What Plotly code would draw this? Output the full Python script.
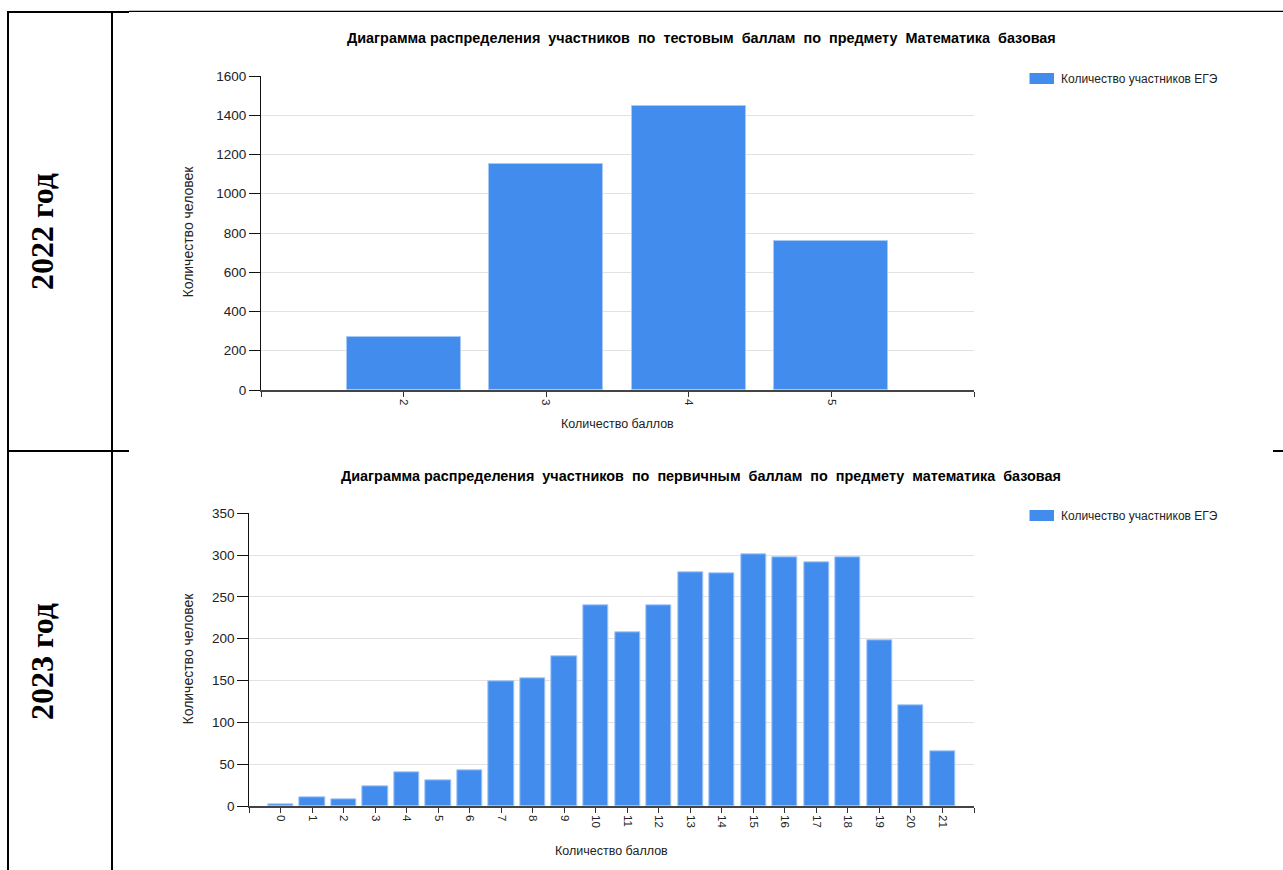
import plotly.graph_objects as go

W, H = 1283, 870

# 2022: distribution by test score (grade)
grades_2022 = [2, 3, 4, 5]
counts_2022 = [272, 1150, 1445, 758]

# 2023: distribution by primary score
scores_2023 = list(range(0, 22))
counts_2023 = [2, 10, 8, 24, 40, 31, 43, 149, 153, 179, 240, 208, 240, 279,
               278, 301, 297, 292, 297, 198, 120, 66]

title_2022 = "Диаграмма распределения  участников  по  тестовым  баллам  по  предмету  Математика  базовая"
title_2023 = "Диаграмма распределения  участников  по  первичным  баллам  по  предмету  математика  базовая"
series_name = "Количество участников ЕГЭ"
y_title = "Количество человек"
x_title = "Количество баллов"
year_labels = ["2022 год", "2023 год"]

BAR = "#428cee"
BAR_EDGE = "#a8c8f6"
TXT = "#222222"


def fx(px):
    return px / W


def fy(py):
    return 1 - py / H


fig = go.Figure()

fig.add_trace(go.Bar(x=grades_2022, y=counts_2022, width=0.8, name=series_name,
                     marker=dict(color=BAR, line=dict(color=BAR_EDGE, width=1)),
                     xaxis="x", yaxis="y", showlegend=False))
fig.add_trace(go.Bar(x=scores_2023, y=counts_2023, width=0.8, name=series_name,
                     marker=dict(color=BAR, line=dict(color=BAR_EDGE, width=1)),
                     xaxis="x2", yaxis="y2", showlegend=False))


def x_ticks(cats):
    lo, hi = cats[0] - 1, cats[-1] + 1
    vals = list(range(lo, hi + 1))
    text = ["" if v < cats[0] or v > cats[-1] else str(v) for v in vals]
    return lo, hi, vals, text


lo1, hi1, tv1, tt1 = x_ticks(grades_2022)
lo2, hi2, tv2, tt2 = x_ticks(scores_2023)

xcommon = dict(showgrid=False, zeroline=False, showline=True, linecolor="#444444",
               linewidth=1.5, ticks="outside", ticklen=5, tickcolor="#333333",
               tickangle=90, automargin=False,
               tickfont=dict(family="Liberation Sans, Arial", size=11.5, color=TXT))
ycommon = dict(showgrid=True, gridcolor="#e2e2e2", gridwidth=1, zeroline=False,
               showline=True, linecolor="#111111", linewidth=1, ticks="outside",
               ticklen=11, tickcolor="#111111", automargin=False,
               tickfont=dict(family="Liberation Sans, Arial", size=13.5, color=TXT))

fig.update_layout(
    template="none",
    width=W, height=H, margin=dict(l=0, r=0, t=0, b=0, pad=0, autoexpand=False),
    paper_bgcolor="white", plot_bgcolor="white", bargap=0, showlegend=False,
    xaxis=dict(domain=[fx(261), fx(974)], range=[lo1, hi1], tickmode="array",
               tickvals=tv1, ticktext=tt1, anchor="y", **xcommon),
    yaxis=dict(domain=[fy(390), fy(76)], range=[0, 1600], dtick=200, anchor="x", **ycommon),
    xaxis2=dict(domain=[fx(249.3), fx(974)], range=[lo2, hi2], tickmode="array",
                tickvals=tv2, ticktext=tt2, anchor="y2", **xcommon),
    yaxis2=dict(domain=[fy(806), fy(513.3)], range=[0, 350], dtick=50, anchor="x2", **ycommon),
)

# table frame and legend keys
shapes = [
    dict(type="line", xref="paper", yref="paper", x0=fx(8), x1=fx(8), y0=fy(11), y1=fy(871), line=dict(color="black", width=2)),
    dict(type="line", xref="paper", yref="paper", x0=fx(112), x1=fx(112), y0=fy(11), y1=fy(871), line=dict(color="black", width=2)),
    dict(type="line", xref="paper", yref="paper", x0=fx(7), x1=fx(129), y0=fy(12), y1=fy(12), line=dict(color="black", width=2)),
    dict(type="line", xref="paper", yref="paper", x0=fx(129), x1=fx(1283), y0=fy(11.3), y1=fy(11.3), line=dict(color="black", width=1.3)),
    dict(type="line", xref="paper", yref="paper", x0=fx(7), x1=fx(129), y0=fy(451), y1=fy(451), line=dict(color="black", width=2)),
    dict(type="line", xref="paper", yref="paper", x0=fx(1273), x1=fx(1283), y0=fy(451), y1=fy(451), line=dict(color="black", width=2)),
    dict(type="rect", xref="paper", yref="paper", x0=fx(1029.5), x1=fx(1054), y0=fy(84), y1=fy(73), fillcolor=BAR, line=dict(width=0)),
    dict(type="rect", xref="paper", yref="paper", x0=fx(1029.5), x1=fx(1054), y0=fy(521), y1=fy(510), fillcolor=BAR, line=dict(width=0)),
]
fig.update_layout(shapes=shapes)

ann = []
TITLE_FONT = dict(family="Liberation Sans Narrow, Arial Narrow, Liberation Sans", size=14.4, color="black")
for t, yy in [(title_2022, 38), (title_2023, 476)]:
    ann.append(dict(text="<b>" + t + "</b>", x=fx(701), y=fy(yy), xref="paper", yref="paper",
                    showarrow=False, xanchor="center", yanchor="middle", font=TITLE_FONT))
for lab, yy in [(year_labels[0], 232), (year_labels[1], 662)]:
    ann.append(dict(text="<b>" + lab + "</b>", x=fx(42), y=fy(yy), xref="paper", yref="paper",
                    showarrow=False, textangle=-90, xanchor="center", yanchor="middle",
                    font=dict(family="Liberation Serif, Times New Roman", size=32, color="black")))
for yy in [232, 659]:
    ann.append(dict(text=y_title, x=fx(187.5), y=fy(yy), xref="paper", yref="paper",
                    showarrow=False, textangle=-90, xanchor="center", yanchor="middle",
                    font=dict(family="Liberation Sans, Arial", size=14, color=TXT)))
for xx, yy in [(617, 424), (611, 851)]:
    ann.append(dict(text=x_title, x=fx(xx), y=fy(yy), xref="paper", yref="paper",
                    showarrow=False, xanchor="center", yanchor="middle",
                    font=dict(family="Liberation Sans, Arial", size=12.5, color=TXT)))
for yy in [79, 516]:
    ann.append(dict(text=series_name, x=fx(1059), y=fy(yy), xref="paper", yref="paper",
                    showarrow=False, xanchor="left", yanchor="middle",
                    font=dict(family="Liberation Sans, Arial", size=12, color=TXT)))
fig.update_layout(annotations=ann)

fig.write_html("out.html")
